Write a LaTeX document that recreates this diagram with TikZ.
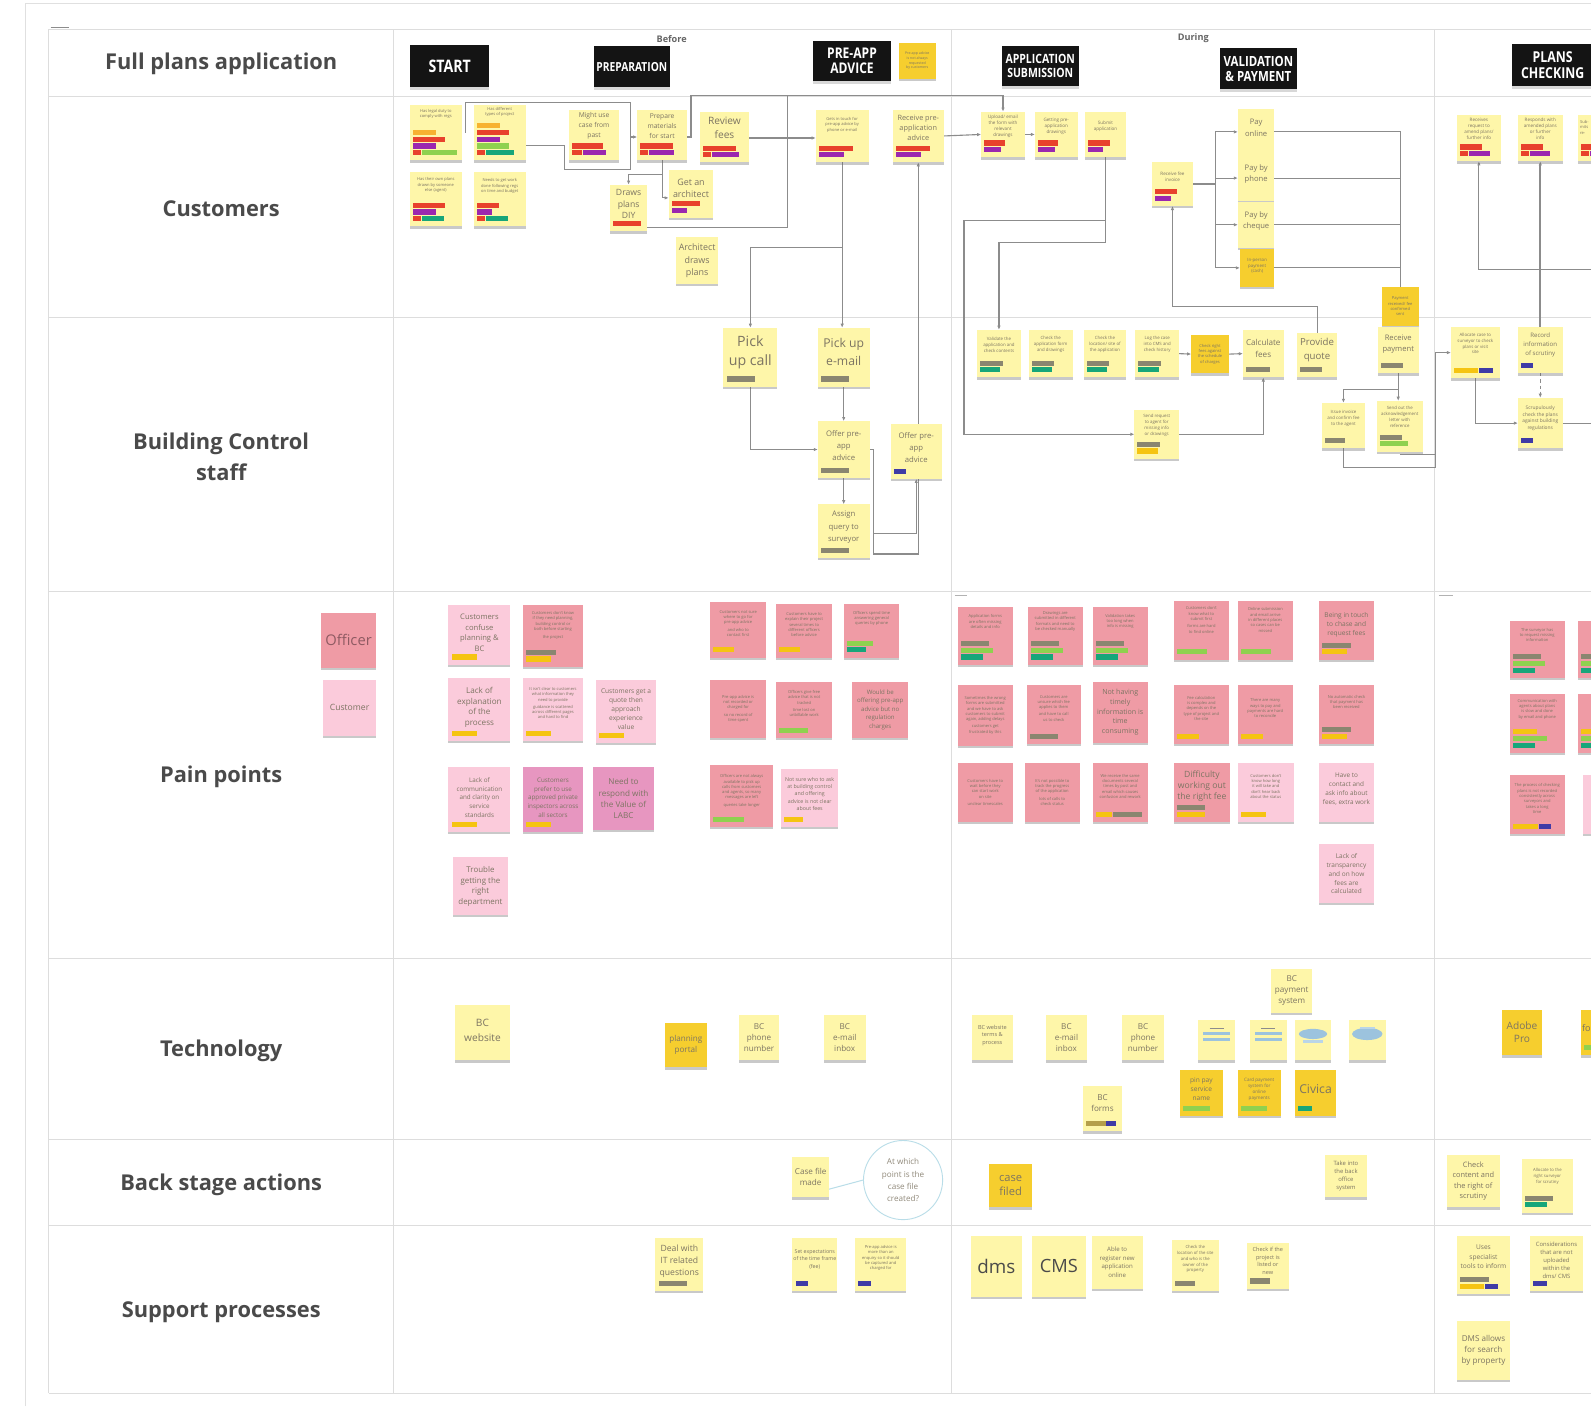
\documentclass[tikz,border=0pt]{standalone}
\usepackage{fontspec}
\setmainfont{Open Sans}
\newfontfamily\hdrfont[FakeStretch=0.82]{Open Sans}
\usetikzlibrary{shadows,arrows.meta}
\pgfdeclarelayer{bg}
\pgfsetlayers{bg,main}
\definecolor{nyel}{HTML}{FEF6A9}
\definecolor{ndark}{HTML}{F6CE2E}
\definecolor{nsal}{HTML}{EF9BA5}
\definecolor{npink}{HTML}{FBCBDB}
\definecolor{nmauve}{HTML}{E796C0}
\definecolor{ntxt}{HTML}{7C7462}
\definecolor{ptxt}{HTML}{8E5A62}
\definecolor{tred}{HTML}{E8412C}
\definecolor{torg}{HTML}{F7B230}
\definecolor{tpur}{HTML}{9B27AF}
\definecolor{tgrn}{HTML}{8FD14F}
\definecolor{ttea}{HTML}{17A67A}
\definecolor{tyel}{HTML}{F5C412}
\definecolor{tgry}{HTML}{8A8670}
\definecolor{tblu}{HTML}{3F3BA6}
\definecolor{lin}{HTML}{8C8C8C}
\definecolor{gridc}{HTML}{DDDDDD}
\definecolor{labc}{HTML}{4A4A4A}
\definecolor{bubc}{HTML}{B9DDE8}
\definecolor{icb}{HTML}{9CC3DE}
\newcommand\fsz[2]{\fontsize{#1}{#2}\selectfont}
\newcommand\tnf{\fsz{4}{5.2}}
\newcommand\stk[9]{\node[#2,minimum width=#5,minimum height=#6,anchor=north west] (#1) at (#3,#4) {};
  \node[ntext,font=#8] (#1-t) at ([yshift=#7]#1.center) {#9};}
\newcommand\tg[5]{\fill[#5] ([shift={(#3+3,-5-6.6*#2)}]#1.south west) rectangle ++(#4,-5);}
\begin{document}
\begin{tikzpicture}[x=1pt,y=-1pt,
  note/.style={inner sep=0pt,outer sep=0pt,drop shadow={shadow xshift=0pt,shadow yshift=-2.2pt,opacity=0.35,fill=black!60}},
  yl/.style={note,fill=nyel},
  dy/.style={note,fill=ndark},
  of/.style={note,fill=nsal},
  cu/.style={note,fill=npink},
  mv/.style={note,fill=nmauve},
  ntext/.style={align=center,text=ntxt,inner sep=0pt},
  hbox/.style={fill=black!92,text=white,align=center,inner sep=0pt,drop shadow={shadow xshift=0pt,shadow yshift=-2.5pt,opacity=0.3}},
  conn/.style={draw=lin,line width=1.1pt},
  arr/.style={conn,-{Latex[length=4pt,width=3.4pt]}},
  bubl/.style={draw=bubc,line width=1pt},
  bubble/.style={circle,draw=bubc,line width=0.9pt,fill=white,minimum size=78pt,inner sep=0pt,align=center,text=ntxt!85,font=\fsz{8}{12}},
  lab/.style={align=center,text=labc,font=\bfseries\fsz{21.5}{30}},
  gridl/.style={draw=gridc,line width=1pt},
  frm/.style={draw=black!12,line width=0.8pt},
  phase/.style={font=\bfseries\fsz{9}{10},text=labc!85}]
\useasboundingbox (0,0) rectangle (1568,1386);
\begin{pgfonlayer}{bg}
\fill[white] (0,0) rectangle (1568,1386);
\draw[frm] (25,1386) -- (25,3) -- (1568,3);
\foreach \yy in {29,95,313,583,945,1123,1208,1373} \draw[gridl] (48,\yy) -- (1568,\yy);
\foreach \xx in {48,388,938,1414} \draw[gridl] (\xx,29) -- (\xx,1373);
\draw[black!45,line width=1pt] (50,27) -- (68,27);
\draw[black!30,line width=0.8pt] (941,587) -- (953,587);
\draw[black!30,line width=0.8pt] (1418,587) -- (1432,587);
\end{pgfonlayer}

% row labels
\node[lab] (lfull) at (218,63) {Full plans application};
\node[lab] (lcus) at (218,206) {Customers};
\node[lab] (lbc) at (218,450) {Building Control\\staff};
\node[lab] (lpain) at (218,766) {Pain points};
\node[lab] (ltech) at (218,1036) {Technology};
\node[lab] (lback) at (218,1168) {Back stage actions};
\node[lab] (lsup) at (218,1293) {Support processes};

% header
\node[phase] (tbef) at (662,38) {Before};
\node[phase] (tdur) at (1176,38) {During};
\node[hbox,font=\hdrfont\bfseries\fsz{17}{18},minimum width=78,minimum height=42,anchor=north west] (hstart) at (404,44) {START};
\node[hbox,font=\hdrfont\bfseries\fsz{12.3}{13},minimum width=75,minimum height=41,anchor=north west] (hprep) at (585,45) {PREPARATION};
\node[hbox,font=\hdrfont\bfseries\fsz{14.5}{15},minimum width=77,minimum height=40,anchor=north west] (hpre) at (801,40) {PRE-APP\\ADVICE};
\node[hbox,font=\hdrfont\bfseries\fsz{12.6}{14},minimum width=76,minimum height=40,anchor=north west] (happ) at (987,45) {APPLICATION\\SUBMISSION};
\node[hbox,font=\hdrfont\bfseries\fsz{13.8}{15},minimum width=76,minimum height=41,anchor=north west] (hval) at (1202,47) {VALIDATION\\\& PAYMENT};
\node[hbox,font=\hdrfont\bfseries\fsz{14.8}{16},minimum width=80,minimum height=42,anchor=north west] (hpla) at (1490,43) {PLANS\\CHECKING};
\stk{hnote}{dy}{886}{42}{36}{36}{0}{\fsz{3.5}{4.5}}{Pre-app advice\\is not always\\requested\\by customers}

% customers, before
\stk{c1}{yl}{404}{103}{51}{55}{18}{\tnf}{Has legal duty to\\comply with regs}
\tg{c1}{3}{0}{23}{torg}\tg{c1}{2}{0}{32}{tred}\tg{c1}{1}{0}{23}{tpur}\tg{c1}{0}{0}{8}{tred}\tg{c1}{0}{9}{34}{tgrn}
\stk{c2}{yl}{467}{103}{51}{55}{20}{\tnf}{Has different\\types of project}
\tg{c2}{4}{0}{23}{torg}\tg{c2}{3}{0}{32}{tred}\tg{c2}{2}{0}{23}{tpur}\tg{c2}{1}{0}{32}{tgrn}\tg{c2}{0}{0}{8}{tred}\tg{c2}{0}{9}{28}{ttea}
\stk{c3}{yl}{404}{170}{51}{53}{14}{\tnf}{Has their own plans\\drawn by someone\\else (agent)}
\tg{c3}{2}{0}{32}{tred}\tg{c3}{1}{0}{23}{tpur}\tg{c3}{0}{0}{8}{tred}\tg{c3}{0}{9}{22}{ttea}
\stk{c4}{yl}{467}{170}{51}{53}{13}{\tnf}{Needs to get work\\done following regs\\on time and budget}
\tg{c4}{2}{0}{22}{tred}\tg{c4}{1}{0}{15}{tpur}\tg{c4}{0}{0}{8}{tred}\tg{c4}{0}{9}{22}{ttea}
\stk{c5}{yl}{561}{108}{49}{50}{9}{\fsz{6.6}{10}}{Might use\\case from\\past}
\tg{c5}{1}{0}{30}{tred}\tg{c5}{0}{0}{10}{tred}\tg{c5}{0}{11}{22}{tpur}
\stk{c6}{yl}{628}{108}{49}{50}{9}{\fsz{6.6}{10}}{Prepare\\materials\\for start}
\tg{c6}{1}{0}{32}{tred}\tg{c6}{0}{0}{8}{tred}\tg{c6}{0}{9}{24}{tpur}
\stk{c7}{yl}{690}{110}{48}{50}{9}{\fsz{10}{14}}{Review\\fees}
\tg{c7}{1}{0}{32}{tred}\tg{c7}{0}{0}{8}{tred}\tg{c7}{0}{9}{26}{tpur}
\stk{c8}{yl}{601}{182}{37}{46}{4}{\fsz{8.5}{11}}{Draws\\plans\\DIY}
\tg{c8}{0}{0}{28}{tred}
\stk{c9}{yl}{659}{168}{44}{47}{6}{\fsz{8.8}{12}}{Get an\\architect}
\tg{c9}{1}{0}{28}{tred}\tg{c9}{0}{0}{15}{tpur}
\stk{c10}{yl}{666}{234}{42}{46}{0}{\fsz{8.8}{12}}{Architect\\draws\\plans}
\stk{c11}{yl}{804}{108}{52}{52}{11}{\tnf}{Gets in touch for\\pre-app advice by\\phone or e-mail}
\tg{c11}{1}{0}{34}{tred}\tg{c11}{0}{0}{25}{tpur}
\stk{c12}{yl}{880}{108}{50}{52}{8}{\fsz{7.2}{9.5}}{Receive pre-\\application\\advice}
\tg{c12}{1}{0}{34}{tred}\tg{c12}{0}{0}{25}{tpur}

% customers, during
\stk{c13}{yl}{967}{110}{43}{45}{8}{\fsz{4.5}{6}}{Upload/ email\\the form with\\relevant\\drawings}
\tg{c13}{1}{0}{20}{tred}\tg{c13}{0}{0}{17}{tpur}
\stk{c14}{yl}{1020}{110}{42}{45}{8}{\fsz{4.5}{6}}{Getting pre-\\application\\drawings}
\tg{c14}{1}{0}{20}{tred}\tg{c14}{0}{0}{17}{tpur}
\stk{c15}{yl}{1069}{110}{41}{45}{8}{\fsz{4.5}{6}}{Submit\\application}
\tg{c15}{1}{0}{22}{tred}\tg{c15}{0}{0}{15}{tpur}
\stk{c16}{yl}{1135}{160}{41}{43}{7}{\fsz{4.5}{6}}{Receive fee\\invoice}
\tg{c16}{1}{0}{22}{tred}\tg{c16}{0}{0}{16}{tpur}
\stk{pay1}{yl}{1220}{107}{36}{46}{4}{\fsz{7.5}{11}}{Pay\\online}
\stk{pay2}{yl}{1220}{153}{36}{45}{4}{\fsz{7.5}{11}}{Pay by\\phone}
\stk{pay3}{yl}{1220}{199}{36}{45}{4}{\fsz{7.5}{11}}{Pay by\\cheque}
\stk{pay4}{dy}{1222}{245}{34}{38}{2}{\fsz{4.3}{5.8}}{In-person\\payment\\(cash)}
\stk{dy2}{dy}{1362}{283}{36}{38}{0}{\tnf}{Payment\\received/ fee\\confirmed\\sent}

% customers, plans checking
\stk{c17}{yl}{1436}{113}{43}{46}{9}{\fsz{4.5}{6}}{Receives\\request to\\amend plans/\\further info}
\tg{c17}{1}{0}{22}{tred}\tg{c17}{0}{0}{8}{tred}\tg{c17}{0}{9}{20}{tpur}
\stk{c18}{yl}{1496}{113}{44}{46}{9}{\fsz{4.5}{6}}{Responds with\\amended plans\\or further\\info}
\tg{c18}{1}{0}{22}{tred}\tg{c18}{0}{0}{8}{tred}\tg{c18}{0}{9}{20}{tpur}
\node[yl,minimum width=44,minimum height=46,anchor=north west] (c19) at (1555,113) {};
\node[ntext,font=\fsz{4}{5.6},anchor=north west,align=left] (c19-t) at (1557,118) {Sub-\\mits\\re-};
\tg{c19}{1}{0}{22}{tred}\tg{c19}{0}{0}{8}{tred}\tg{c19}{0}{9}{20}{tpur}

% building control, before
\stk{pcall}{yl}{713}{323}{53}{58}{5}{\fsz{14}{19}}{Pick\\up call}
\tg{pcall}{0}{0}{28}{tgry}
\stk{pmail}{yl}{806}{323}{51}{58}{5}{\fsz{12}{18}}{Pick up\\e-mail}
\tg{pmail}{0}{0}{28}{tgry}
\stk{offer}{yl}{806}{415}{51}{56}{4}{\fsz{7.6}{12}}{Offer pre-\\app\\advice}
\tg{offer}{0}{0}{28}{tgry}
\stk{offer2}{yl}{878}{418}{50}{54}{4}{\fsz{7.6}{12}}{Offer pre-\\app\\advice}
\tg{offer2}{0}{0}{12}{tblu}
\stk{assign}{yl}{806}{497}{51}{53}{4}{\fsz{7.6}{12}}{Assign\\query to\\surveyor}
\tg{assign}{0}{0}{28}{tgry}

% building control, during
\stk{b1}{yl}{963}{325}{43}{47}{9}{\fsz{4.3}{5.8}}{Validate the\\application and\\check contents}
\tg{b1}{1}{0}{22}{tgry}\tg{b1}{0}{0}{20}{ttea}
\stk{b2}{yl}{1014}{325}{43}{47}{9}{\fsz{4.3}{5.8}}{Check the\\application form\\and drawings}
\tg{b2}{1}{0}{22}{tgry}\tg{b2}{0}{0}{20}{ttea}
\stk{b3}{yl}{1068}{325}{42}{47}{9}{\fsz{4.3}{5.8}}{Check the\\location/ site of\\the application}
\tg{b3}{1}{0}{22}{tgry}\tg{b3}{0}{0}{20}{ttea}
\stk{b4}{yl}{1119}{325}{43}{47}{9}{\fsz{4.3}{5.8}}{Log the case\\into CMS and\\check history}
\tg{b4}{1}{0}{22}{tgry}\tg{b4}{0}{0}{20}{ttea}
\stk{b5}{dy}{1174}{330}{37}{38}{0}{\tnf}{Check right\\fees against\\the schedule\\of charges}
\stk{calc}{yl}{1225}{325}{40}{47}{5}{\fsz{8}{12}}{Calculate\\fees}
\tg{calc}{0}{0}{24}{tgry}
\stk{quote}{yl}{1278}{328}{40}{44}{5}{\fsz{9.5}{13}}{Provide\\quote}
\tg{quote}{0}{0}{22}{tgry}
\stk{rpay}{yl}{1358}{322}{40}{46}{6}{\fsz{7.5}{11}}{Receive\\payment}
\tg{rpay}{0}{0}{22}{tgry}
\stk{b6}{yl}{1118}{404}{44}{48}{9}{\fsz{4.3}{5.8}}{Send request\\to agent for\\missing info\\or drawings}
\tg{b6}{1}{0}{22}{tgry}\tg{b6}{0}{0}{20}{tyel}
\stk{b7}{yl}{1303}{397}{42}{45}{7}{\fsz{4.3}{5.8}}{Issue invoice\\and confirm fee\\to the agent}
\tg{b7}{0}{0}{20}{tgry}
\stk{b8}{yl}{1357}{395}{45}{50}{9}{\fsz{4.3}{5.8}}{Send out the\\acknowledgement\\letter with\\reference}
\tg{b8}{1}{0}{22}{tgry}\tg{b8}{0}{0}{28}{tgrn}

% building control, plans checking
\stk{b9}{yl}{1430}{322}{48}{51}{9}{\fsz{4.3}{5.8}}{Allocate case to\\surveyor to check\\plans or visit\\site}
\tg{b9}{0}{0}{24}{tyel}\tg{b9}{0}{25}{13}{tblu}
\stk{rec}{yl}{1496}{322}{44}{46}{5}{\fsz{6}{8.5}}{Record\\information\\of scrutiny}
\tg{rec}{0}{0}{12}{tblu}
\stk{scr}{yl}{1496}{392}{44}{50}{5}{\fsz{4.8}{6.5}}{Scrupulously\\check the plans\\against building\\regulations}
\tg{scr}{0}{0}{12}{tblu}

% pain points legend
\stk{lgo}{of}{316}{604}{55}{54}{0}{\fsz{14.5}{16}}{\color{ptxt}Officer}
\stk{lgc}{cu}{318}{670}{53}{55}{0}{\fsz{8.5}{10}}{Customer}

% pain points, before
\stk{p1}{cu}{442}{596}{61}{59}{2}{\fsz{7.5}{10.5}}{Customers\\confuse\\planning \&\\BC}
\tg{p1}{0}{0}{25}{tyel}
\stk{p2}{of}{515}{596}{60}{61}{10}{\tnf}{Customers don't know\\if they need planning,\\building control or\\both before starting\\[3pt]the project}
\tg{p2}{1}{0}{30}{tgry}\tg{p2}{0}{0}{25}{tyel}
\stk{p3}{of}{700}{593}{55}{55}{6}{\tnf}{Customers not sure\\where to go for\\pre-app advice\\[2pt]and who to\\contact first}
\tg{p3}{0}{0}{20}{tyel}
\stk{p4}{of}{765}{595}{55}{53}{6}{\tnf}{Customers have to\\explain their project\\several times to\\different officers\\before advice}
\tg{p4}{0}{0}{20}{tyel}
\stk{p5}{of}{832}{595}{54}{53}{12}{\tnf}{Officers spend time\\answering general\\queries by phone}
\tg{p5}{1}{0}{25}{tgrn}\tg{p5}{0}{0}{18}{ttea}
\stk{p6}{cu}{442}{668}{61}{62}{2}{\fsz{8}{10.5}}{Lack of\\explanation\\of the\\process}
\tg{p6}{0}{0}{25}{tyel}
\stk{p7}{cu}{515}{668}{60}{62}{6}{\tnf}{It isn't clear to customers\\what information they\\need to provide\\[2pt]guidance is scattered\\across different pages\\and hard to find}
\tg{p7}{0}{0}{25}{tyel}
\stk{p8}{cu}{587}{670}{60}{62}{2}{\fsz{6.5}{9}}{Customers get a\\quote then\\approach\\experience\\value}
\tg{p8}{0}{0}{25}{tyel}
\stk{p9}{of}{700}{670}{55}{57}{0}{\tnf}{Pre-app advice is\\not recorded or\\charged for\\[2pt]so no record of\\time spent}
\stk{p10}{of}{765}{672}{55}{55}{6}{\tnf}{Officers give free\\advice that is not\\tracked\\[2pt]time lost on\\unbillable work}
\tg{p10}{0}{0}{28}{tgrn}
\stk{p11}{of}{840}{672}{55}{55}{0}{\fsz{6}{8.5}}{Would be\\offering pre-app\\advice but no\\regulation\\charges}
\stk{p12}{cu}{442}{756}{61}{64}{2}{\fsz{6.2}{8.5}}{Lack of\\communication\\and clarity on\\service\\standards}
\tg{p12}{0}{0}{25}{tyel}
\stk{p13}{mv}{515}{756}{60}{64}{2}{\fsz{6.2}{8.5}}{Customers\\prefer to use\\approved private\\inspectors across\\all sectors}
\tg{p13}{0}{0}{25}{tyel}
\stk{p14}{mv}{584}{756}{61}{62}{0}{\fsz{8}{11}}{Need to\\respond with\\the Value of\\LABC}
\stk{p15}{of}{700}{754}{62}{61}{5}{\tnf}{Officers are not always\\available to pick up\\calls from customers\\and agents, so many\\messages are left\\[2pt]queries take longer}
\tg{p15}{0}{0}{30}{tgrn}
\stk{p16}{cu}{770}{758}{56}{57}{4}{\fsz{5.2}{7}}{Not sure who to ask\\at building control\\and offering\\advice is not clear\\about fees}
\tg{p16}{0}{0}{18}{tyel}
\stk{p17}{cu}{446}{845}{55}{57}{0}{\fsz{7.8}{10.5}}{Trouble\\getting the\\right\\department}

% pain points, during
\stk{q1}{of}{944}{598}{54}{57}{14}{\tnf}{Application forms\\are often missing\\details and info}
\tg{q1}{2}{0}{28}{tgry}\tg{q1}{1}{0}{32}{tgrn}\tg{q1}{0}{0}{22}{ttea}
\stk{q2}{of}{1013}{598}{54}{57}{14}{\tnf}{Drawings are\\submitted in different\\formats and need to\\be checked manually}
\tg{q2}{2}{0}{28}{tgry}\tg{q2}{1}{0}{32}{tgrn}\tg{q2}{0}{0}{22}{ttea}
\stk{q3}{of}{1077}{598}{54}{57}{14}{\tnf}{Validation takes\\too long when\\info is missing}
\tg{q3}{2}{0}{28}{tgry}\tg{q3}{1}{0}{32}{tgrn}\tg{q3}{0}{0}{22}{ttea}
\stk{q4}{of}{1157}{592}{54}{58}{10}{\tnf}{Customers don't\\know what to\\submit first\\[2pt]forms are hard\\to find online}
\tg{q4}{0}{0}{30}{tgrn}
\stk{q5}{of}{1220}{592}{54}{58}{10}{\tnf}{Online submission\\and email arrive\\in different places\\so cases can be\\missed}
\tg{q5}{0}{0}{30}{tgrn}
\stk{q6}{of}{1300}{592}{54}{58}{5}{\fsz{6.5}{9}}{Being in touch\\to chase and\\request fees}
\tg{q6}{1}{0}{28}{tgry}\tg{q6}{0}{0}{25}{tyel}
\stk{q7}{of}{944}{675}{54}{60}{0}{\tnf}{Sometimes the wrong\\forms are submitted\\and we have to ask\\customers to submit\\again, adding delays\\[2pt]customers get\\frustrated by this}
\stk{q8}{of}{1012}{675}{53}{58}{6}{\tnf}{Customers are\\unsure which fee\\applies to them\\[2pt]and have to call\\us to check}
\tg{q8}{0}{0}{28}{tgry}
\stk{q9}{of}{1077}{672}{54}{60}{0}{\fsz{7}{9.5}}{Not having\\timely\\information is\\time\\consuming}
\stk{q10}{of}{1157}{675}{54}{58}{6}{\tnf}{Fee calculation\\is complex and\\depends on the\\type of project and\\the site}
\tg{q10}{0}{0}{22}{tyel}
\stk{q11}{of}{1220}{675}{54}{58}{6}{\tnf}{There are many\\ways to pay and\\payments are hard\\to reconcile}
\tg{q11}{0}{0}{22}{tyel}
\stk{q12}{of}{1300}{675}{54}{58}{12}{\tnf}{No automatic check\\that payment has\\been received}
\tg{q12}{1}{0}{28}{tgry}\tg{q12}{0}{0}{25}{tyel}
\stk{q13}{of}{944}{752}{54}{58}{0}{\tnf}{Customers have to\\wait before they\\can start work\\on site\\[2pt]unclear timescales}
\stk{q14}{of}{1010}{752}{54}{58}{0}{\tnf}{It's not possible to\\track the progress\\of the application\\[2pt]lots of calls to\\check status}
\stk{q15}{of}{1077}{752}{54}{58}{6}{\tnf}{We receive the same\\documents several\\times by post and\\email which causes\\confusion and rework}
\tg{q15}{0}{0}{16}{tyel}\tg{q15}{0}{17}{28}{tgry}
\stk{q16}{of}{1157}{752}{55}{58}{6}{\fsz{8.5}{11}}{Difficulty\\working out\\the right fee}
\tg{q16}{1}{0}{28}{tgry}\tg{q16}{0}{0}{28}{tyel}
\stk{q17}{cu}{1220}{752}{55}{58}{6}{\tnf}{Customers don't\\know how long\\it will take and\\don't hear back\\about the status}
\tg{q17}{0}{0}{25}{tyel}
\stk{q18}{cu}{1300}{752}{54}{58}{3}{\fsz{6.3}{9}}{Have to\\contact and\\ask info about\\fees, extra work}
\stk{q19}{cu}{1300}{832}{54}{58}{0}{\fsz{6.4}{8.8}}{Lack of\\transparency\\and on how\\fees are\\calculated}

% pain points, plans checking
\stk{r1}{of}{1488}{612}{54}{56}{14}{\tnf}{The surveyor has\\to request missing\\information}
\tg{r1}{2}{0}{28}{tgry}\tg{r1}{1}{0}{32}{tgrn}\tg{r1}{0}{0}{22}{ttea}
\node[of,minimum width=54,minimum height=56,anchor=north west] (r2) at (1555,612) {};
\tg{r2}{2}{0}{28}{tgry}\tg{r2}{1}{0}{32}{tgrn}\tg{r2}{0}{0}{22}{ttea}
\stk{r3}{of}{1488}{684}{54}{58}{14}{\tnf}{Communication with\\agents about plans\\is slow and done\\by email and phone}
\tg{r3}{2}{0}{24}{tyel}\tg{r3}{1}{0}{34}{tgrn}\tg{r3}{0}{0}{22}{ttea}
\node[of,minimum width=54,minimum height=58,anchor=north west] (r4) at (1555,684) {};
\tg{r4}{2}{0}{24}{tyel}\tg{r4}{1}{0}{34}{tgrn}\tg{r4}{0}{0}{22}{ttea}
\stk{r5}{of}{1488}{764}{54}{58}{6}{\tnf}{The process of checking\\plans is not recorded\\consistently across\\surveyors and\\takes a long\\time}
\tg{r5}{0}{0}{25}{tyel}\tg{r5}{0}{26}{12}{tblu}
\node[cu,minimum width=54,minimum height=58,anchor=north west] (r6) at (1560,764) {};

% technology
\stk{t1}{yl}{448}{990}{55}{55}{2}{\fsz{10}{14}}{BC\\website}
\stk{t2}{dy}{655}{1008}{42}{44}{0}{\fsz{8}{11}}{planning\\portal}
\stk{t3}{yl}{728}{1000}{40}{45}{0}{\fsz{8}{11}}{BC\\phone\\number}
\stk{t4}{yl}{812}{1000}{41}{45}{0}{\fsz{8}{11}}{BC\\e-mail\\inbox}
\stk{t5}{yl}{958}{1000}{40}{45}{2}{\fsz{5.5}{7.5}}{BC website\\terms \&\\process}
\stk{t6}{yl}{1031}{1000}{40}{45}{0}{\fsz{8}{11}}{BC\\e-mail\\inbox}
\stk{t7}{yl}{1106}{1000}{41}{45}{0}{\fsz{8}{11}}{BC\\phone\\number}
\stk{t8}{yl}{1253}{955}{40}{43}{0}{\fsz{8}{11}}{BC\\payment\\system}
\node[yl,minimum width=36,minimum height=40,anchor=north west] (t9) at (1181,1005) {};
\node[yl,minimum width=36,minimum height=40,anchor=north west] (t10) at (1232,1005) {};
\node[yl,minimum width=36,minimum height=40,anchor=north west] (t11) at (1276,1005) {};
\node[yl,minimum width=37,minimum height=40,anchor=north west] (t12) at (1329,1005) {};
\draw[black!45,line width=0.6pt] (1192,1013) -- (1206,1013);
\fill[icb] (1186,1017) rectangle (1212,1020);
\fill[icb] (1186,1023) rectangle (1212,1026);
\draw[black!45,line width=0.6pt] (1243,1013) -- (1257,1013);
\fill[icb] (1237,1017) rectangle (1263,1020);
\fill[icb] (1237,1023) rectangle (1263,1026);
\fill[icb] (1294,1019) ellipse (14 and 5);
\fill[icb!70] (1284,1025) rectangle (1304,1028);
\fill[icb] (1347.5,1019) ellipse (15 and 6);
\fill[icb!70] (1340,1012) rectangle (1355,1014);
\stk{t13}{yl}{1067}{1070}{39}{45}{5}{\fsz{8}{11}}{BC\\forms}
\tg{t13}{0}{0}{20}{tgry!60!tyel}\tg{t13}{0}{20}{10}{tblu}
\stk{t14}{dy}{1163}{1055}{42}{45}{4}{\fsz{6.5}{9}}{pin pay\\service\\name}
\tg{t14}{0}{0}{26}{tgrn}
\stk{t15}{dy}{1220}{1055}{42}{45}{4}{\fsz{4.5}{6}}{Card payment\\system for\\online\\payments}
\tg{t15}{0}{0}{26}{tgrn}
\stk{t16}{dy}{1276}{1055}{41}{45}{4}{\fsz{12}{14}}{Civica}
\tg{t16}{0}{0}{14}{ttea}
\stk{t17}{dy}{1480}{995}{40}{45}{0}{\fsz{10}{13}}{Adobe\\Pro}
\node[dy,minimum width=40,minimum height=45,anchor=north west] (t18) at (1558,995) {};
\node[ntext,font=\fsz{9}{13},anchor=west] (t18-t) at ([xshift=1,yshift=4]t18.west) {fo};
\tg{t18}{0}{0}{30}{tgrn}

% back stage actions
\stk{k1}{yl}{781}{1140}{36}{40}{0}{\fsz{8}{11}}{Case file\\made}
\node[bubble] (bub) at (890,1163) {At which\\point is the\\case file\\created?};
\stk{k3}{dy}{975}{1147}{42}{43}{0}{\fsz{11}{14}}{case\\filed}
\stk{k4}{yl}{1306}{1138}{41}{42}{0}{\fsz{5.8}{8}}{Take into\\the back\\office\\system}
\stk{k5}{yl}{1426}{1138}{52}{52}{0}{\fsz{7.3}{10}}{Check\\content and\\the right of\\scrutiny}
\stk{k6}{yl}{1500}{1142}{50}{53}{9}{\fsz{4.2}{5.6}}{Allocate to the\\right surveyor\\for scrutiny}
\tg{k6}{1}{0}{28}{tgry}\tg{k6}{0}{0}{22}{ttea}

% support processes
\stk{s1}{yl}{646}{1220}{47}{52}{3}{\fsz{8.5}{12}}{Deal with\\IT related\\questions}
\tg{s1}{0}{0}{28}{tgry}
\stk{s2}{yl}{781}{1220}{44}{52}{5}{\fsz{5.2}{7.2}}{Set expectations\\of the time frame\\(fee)}
\tg{s2}{0}{0}{12}{tblu}
\stk{s3}{yl}{843}{1220}{50}{52}{6}{\tnf}{Pre-app advice is\\more than an\\enquiry so it should\\be captured and\\charged for}
\tg{s3}{0}{0}{12}{tblu}
\stk{s4}{yl}{957}{1218}{50}{60}{0}{\fsz{18.5}{20}}{\color{labc}dms}
\stk{s5}{yl}{1017}{1218}{53}{60}{0}{\fsz{18}{20}}{\color{labc}CMS}
\stk{s6}{yl}{1076}{1218}{50}{52}{0}{\fsz{6}{8.5}}{Able to\\register new\\application\\online}
\stk{s7}{yl}{1155}{1222}{46}{50}{6}{\fsz{4.2}{5.6}}{Check the\\location of the site\\and who is the\\owner of the\\property}
\tg{s7}{0}{0}{20}{tgry}
\stk{s8}{yl}{1229}{1225}{41}{45}{5}{\fsz{5.5}{7.5}}{Check if the\\project is\\listed or\\new}
\tg{s8}{0}{0}{20}{tgry}
\stk{s9}{yl}{1436}{1218}{52}{57}{8}{\fsz{6.5}{9}}{Uses\\specialist\\tools to inform}
\tg{s9}{1}{0}{28}{tgry}\tg{s9}{0}{0}{24}{tyel}\tg{s9}{0}{25}{12}{tblu}
\stk{s10}{yl}{1508}{1218}{52}{54}{3}{\fsz{5.8}{8}}{Considerations\\that are not\\uploaded\\within the\\dms/ CMS}
\tg{s10}{0}{0}{14}{tblu}
\stk{s11}{yl}{1436}{1302}{52}{58}{0}{\fsz{8}{11}}{DMS allows\\for search\\by property}

% connectors
\coordinate (jA) at (459,131);
\coordinate (jB) at (621,135);
\coordinate (eR1) at (1575,417);
\coordinate (eR2) at (1575,266);
\coordinate (fork) at (1198,181.5);
\begin{pgfonlayer}{bg}
\draw[conn] (c2.east |- 0,143) -- (556,143) -- (556,167) -- (621,167) -- (621,101) -- (459,101) -- (jA);
\draw[arr] (jB) -- (c6.west |- jB);
\draw[arr] (c6.south) -- (c6.south |- 0,172) -| (c8.north);
\draw[arr] (c6.south |- 0,172) |- (c9.west |- 0,195);
\draw[conn] (c8.east |- 0,224) -- (776,224) -- (776,94);
\draw[arr] (c6.east |- 0,135) -- (681,135) -- (681,94) -| (c13.north);
\draw[arr] (c7.east |- 0,136) -- (c11.west |- 0,136);
\draw[arr] (c11.south) -- (c11.south |- pmail.north);
\draw[arr] (c11.south |- 0,244) -| (pcall.north);
\draw[arr] (pcall.south) |- (offer.west);
\draw[arr] (pmail.south) -- (pmail.south |- offer.north);
\draw[arr] (offer.south) -- (offer.south |- assign.north);
\draw[arr] (offer.east) -| (861,546) -| (c12.south);
\draw[arr] (861,526) -| (offer2.south);
\draw[arr] (c12.east) -- (c13.west);
\draw[arr] (c13.east) -- (c14.west);
\draw[conn] (c15.south) -- (c15.south |- 0,239);
\draw[arr] (c15.south |- 0,217) -| (950,428) -- (b6.west);
\draw[arr] (c15.south |- 0,239) -| (b1.north);
\draw[arr] (b6.east) -| (calc.south);
\draw[arr] (b4.east) -- (b5.west);
\draw[arr] (b5.east) -- (calc.west);
\draw[conn,line width=2pt] (c16.east) -- (fork);
\foreach \p in {pay1,pay2,pay3,pay4} \draw[arr] (fork) |- (\p.west);
\draw[conn] (pay1.east) -| (dy2.north);
\foreach \p in {pay2,pay3,pay4} \draw[conn] (\p.east) -- (\p.east -| dy2.north);
\draw[arr] (quote.north) -- ++(0,-26) -| (c16.south);
\draw[arr] (rpay.south) -- (rpay.south |- b8.north);
\draw[arr] (rpay.south |- 0,384) -| (b7.north);
\draw[arr] (b7.south) |- (1415,461) |- (b9.west);
\draw[conn] (b8.south |- 0,448) -- (1415,448);
\draw[arr] (b9.south) |- (scr.west);
\draw[arr,dashed] (rec.south) -- (scr.north);
\draw[conn] (scr.east) -- (eR1);
\draw[arr,line width=1.8pt] (rec.north) -- (c18.south);
\draw[arr] (eR2) -| (c17.south);
\draw[bubl] (k1.east |- 0,1172) -- (bub.west);
\end{pgfonlayer}
\end{tikzpicture}
\end{document}
